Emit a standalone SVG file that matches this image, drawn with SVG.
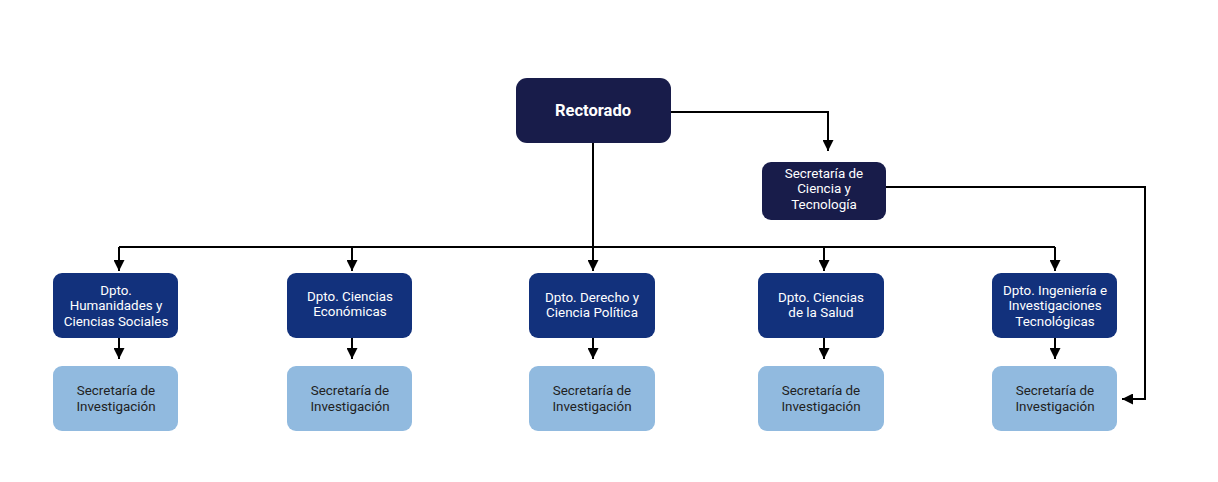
<svg xmlns="http://www.w3.org/2000/svg" width="1218" height="482" viewBox="0 0 1218 482">
<defs>
<marker id="arr" viewBox="0 0 10 10" refX="10" refY="5" markerWidth="11" markerHeight="11" markerUnits="userSpaceOnUse" orient="auto">
<path d="M0,0 L10,5 L0,10 z" fill="#000"/>
</marker>
<style>
.top{fill:#181c4a}
.dep{fill:#12317c}
.sec{fill:#91badf}
.tw{font-family:Roboto,"Liberation Sans",sans-serif;font-size:13.4px;fill:#fff;text-anchor:middle}
.tb{font-family:Roboto,"Liberation Sans",sans-serif;font-size:13.4px;fill:#222;text-anchor:middle}
.tr{font-family:Roboto,"Liberation Sans",sans-serif;font-size:16.5px;font-weight:bold;fill:#fff;text-anchor:middle}
.ln{fill:none;stroke:#000;stroke-width:2}
</style>
</defs>
<rect width="1218" height="482" fill="#fff"/>
<g id="connectors">
<path class="ln" d="M593,143 V247"/>
<path class="ln" d="M119,247 H1055"/>
<path class="ln" d="M119,247 V271" marker-end="url(#arr)"/>
<path class="ln" d="M352,247 V271" marker-end="url(#arr)"/>
<path class="ln" d="M593,247 V271" marker-end="url(#arr)"/>
<path class="ln" d="M824,247 V271" marker-end="url(#arr)"/>
<path class="ln" d="M1055,247 V271" marker-end="url(#arr)"/>
<path class="ln" d="M671,112 H828 V151" marker-end="url(#arr)"/>
<path class="ln" d="M886,187 H1145 V399 H1122" marker-end="url(#arr)"/>
<path class="ln" d="M119,338 V359" marker-end="url(#arr)"/>
<path class="ln" d="M352,338 V359" marker-end="url(#arr)"/>
<path class="ln" d="M593,338 V359" marker-end="url(#arr)"/>
<path class="ln" d="M824,338 V359" marker-end="url(#arr)"/>
<path class="ln" d="M1055,338 V359" marker-end="url(#arr)"/>
</g>
<g id="rectorado"><rect class="top" x="516" y="78" width="155" height="65" rx="11"/><text class="tr" x="593" y="116">Rectorado</text></g>
<g id="sct"><rect class="top" x="762" y="162" width="124" height="58" rx="9"/><text class="tw" x="824" y="177.5">Secretaría de</text><text class="tw" x="824" y="193">Ciencia y</text><text class="tw" x="824" y="209">Tecnología</text></g>
<g id="dep1"><rect class="dep" x="53" y="273" width="125" height="65" rx="9"/><text class="tw" x="116" y="294.5">Dpto.</text><text class="tw" x="116" y="310">Humanidades y</text><text class="tw" x="116" y="325.5">Ciencias Sociales</text></g>
<g id="dep2"><rect class="dep" x="287" y="273" width="125" height="65" rx="9"/><text class="tw" x="350" y="300.5">Dpto. Ciencias</text><text class="tw" x="350" y="316">Económicas</text></g>
<g id="dep3"><rect class="dep" x="529" y="273" width="126" height="65" rx="9"/><text class="tw" x="592" y="301.5">Dpto. Derecho y</text><text class="tw" x="592" y="317">Ciencia Política</text></g>
<g id="dep4"><rect class="dep" x="758" y="273" width="126" height="65" rx="9"/><text class="tw" x="821" y="301.5">Dpto. Ciencias</text><text class="tw" x="821" y="317">de la Salud</text></g>
<g id="dep5"><rect class="dep" x="992" y="273" width="125" height="65" rx="9"/><text class="tw" x="1055" y="294.5">Dpto. Ingeniería e</text><text class="tw" x="1055" y="310">Investigaciones</text><text class="tw" x="1055" y="325.5">Tecnológicas</text></g>
<g id="sec1"><rect class="sec" x="53" y="366" width="125" height="65" rx="9"/><text class="tb" x="116" y="394.5">Secretaría de</text><text class="tb" x="116" y="410.5">Investigación</text></g>
<g id="sec2"><rect class="sec" x="287" y="366" width="125" height="65" rx="9"/><text class="tb" x="350" y="394.5">Secretaría de</text><text class="tb" x="350" y="410.5">Investigación</text></g>
<g id="sec3"><rect class="sec" x="529" y="366" width="126" height="65" rx="9"/><text class="tb" x="592" y="394.5">Secretaría de</text><text class="tb" x="592" y="410.5">Investigación</text></g>
<g id="sec4"><rect class="sec" x="758" y="366" width="126" height="65" rx="9"/><text class="tb" x="821" y="394.5">Secretaría de</text><text class="tb" x="821" y="410.5">Investigación</text></g>
<g id="sec5"><rect class="sec" x="992" y="366" width="125" height="65" rx="9"/><text class="tb" x="1055" y="394.5">Secretaría de</text><text class="tb" x="1055" y="410.5">Investigación</text></g>
</svg>
